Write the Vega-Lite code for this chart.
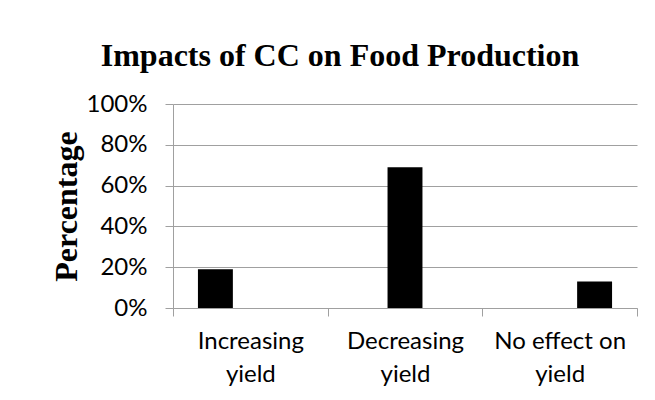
{
  "$schema": "https://vega.github.io/schema/vega-lite/v6.json",
  "autosize": {"type": "none"},
  "width": 464,
  "height": 204,
  "padding": {"left": 173, "top": 104, "right": 18, "bottom": 92},
  "background": "white",
  "title": {
    "text": "Impacts of CC on Food Production",
    "font": "Liberation Serif",
    "fontSize": 32,
    "fontWeight": "bold",
    "color": "black",
    "anchor": "middle",
    "frame": "group",
    "dx": -65,
    "offset": 19
  },
  "data": {
    "values": [
      {"category": "Increasing yield", "series": "A", "value": 0.19},
      {"category": "Increasing yield", "series": "B", "value": 0},
      {"category": "Increasing yield", "series": "C", "value": 0},
      {"category": "Decreasing yield", "series": "A", "value": 0},
      {"category": "Decreasing yield", "series": "B", "value": 0.69},
      {"category": "Decreasing yield", "series": "C", "value": 0},
      {"category": "No effect on yield", "series": "A", "value": 0},
      {"category": "No effect on yield", "series": "B", "value": 0},
      {"category": "No effect on yield", "series": "C", "value": 0.13}
    ]
  },
  "mark": {"type": "bar", "color": "black"},
  "encoding": {
    "x": {
      "field": "category",
      "type": "nominal",
      "sort": null,
      "scale": {"paddingInner": 0, "paddingOuter": 0},
      "axis": {
        "title": null,
        "labelAngle": 0,
        "labelFont": "Lato",
        "labelFontSize": 24,
        "labelColor": "black",
        "labelPadding": 13,
        "labelLineHeight": 33,
        "labelBaseline": "top",
        "labelExpr": "datum.label == 'No effect on yield' ? ['No effect on', 'yield'] : split(datum.label, ' ')",
        "tickBand": "extent",
        "tickSize": 8,
        "tickColor": "#a0a0a0",
        "domainColor": "#a0a0a0",
        "grid": false
      }
    },
    "xOffset": {
      "field": "series",
      "type": "nominal",
      "scale": {"paddingInner": 0, "paddingOuter": 0.714}
    },
    "y": {
      "field": "value",
      "type": "quantitative",
      "scale": {"domain": [0, 1], "nice": false},
      "axis": {
        "title": "Percentage",
        "titleFont": "Liberation Serif",
        "titleFontSize": 32,
        "titleFontWeight": "bold",
        "titleColor": "black",
        "titlePadding": 3,
        "format": ".0%",
        "values": [0, 0.2, 0.4, 0.6, 0.8, 1],
        "labelFont": "Lato",
        "labelFontSize": 24,
        "labelColor": "black",
        "labelPadding": 18,
        "tickSize": 8,
        "tickColor": "#a0a0a0",
        "domainColor": "#a0a0a0",
        "gridColor": "#a0a0a0",
        "grid": true
      }
    }
  },
  "config": {
    "view": {"stroke": null},
    "axis": {"domainWidth": 1, "gridWidth": 1}
  }
}
